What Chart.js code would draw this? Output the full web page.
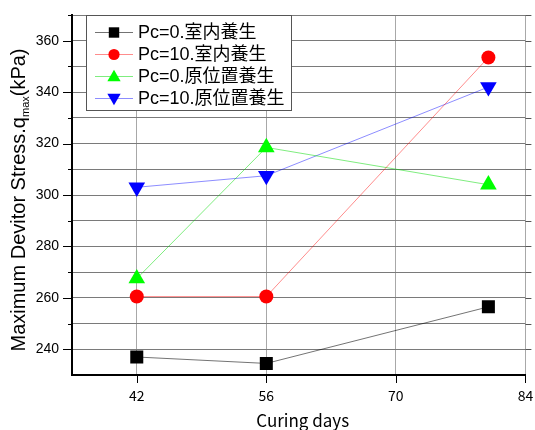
<!DOCTYPE html>
<html>
<head>
<meta charset="utf-8">
<script src="https://cdn.jsdelivr.net/npm/chart.js@4.4.1/dist/chart.umd.min.js"></script>
<style>
  html, body { margin: 0; padding: 0; background: #ffffff; }
  #wrap { width: 535px; height: 430px; }
</style>
</head>
<body>
<div id="wrap"><canvas id="c" width="535" height="430"></canvas></div>
<script>
// Curing time (days) and the tick marks on the x axis
const curingDays = [42, 56, 80];
const xTickValues = [42, 56, 70, 84];

// Maximum deviator stress q_max (kPa) for each curing condition
const seriesNames = ['Pc=0.室内養生', 'Pc=10.室内養生', 'Pc=0.原位置養生', 'Pc=10.原位置養生'];
const pc0Indoor = [237, 234.5, 256.5];
const pc10Indoor = [260.5, 260.5, 353.5];
const pc0Field = [267.5, 318.5, 304];
const pc10Field = [303, 307.5, 342];

// y axis range and labelled ticks
const yMin = 230, yMax = 370, yStep = 10;
const yTickLabels = [240, 260, 280, 300, 320, 340, 360];

const LATIN = '"Liberation Sans", Arial, sans-serif';
const GOTHIC = '"Noto Sans CJK JP", "Liberation Sans", sans-serif';
const MIXED = '"Liberation Sans", "Noto Sans CJK JP", sans-serif';

const styles = [
  { line: 'rgba(0,0,0,0.55)',   fill: '#000000', shape: 'rect',     radius: 9.2, rot: 0 },
  { line: 'rgba(255,0,0,0.45)', fill: '#ff0000', shape: 'circle',   radius: 7,   rot: 0 },
  { line: 'rgba(0,220,0,0.5)',  fill: '#00ff00', shape: 'triangle', radius: 9.6, rot: 0 },
  { line: 'rgba(0,0,255,0.45)', fill: '#0000ff', shape: 'triangle', radius: 9.6, rot: 180 }
];

const seriesValues = [pc0Indoor, pc10Indoor, pc0Field, pc10Field];

const datasets = seriesValues.map((vals, i) => ({
  label: seriesNames[i],
  data: curingDays.map((d, k) => ({ x: d, y: vals[k] })),
  borderColor: styles[i].line,
  borderWidth: 1,
  backgroundColor: styles[i].fill,
  pointStyle: styles[i].shape,
  pointRadius: styles[i].radius,
  pointRotation: styles[i].rot,
  pointBackgroundColor: styles[i].fill,
  pointBorderColor: styles[i].fill,
  pointBorderWidth: 0,
  pointHoverRadius: styles[i].radius,
  tension: 0
}));

// Tick marks, framed legend and axis titles drawn on top of the chart
const decorations = {
  id: 'decorations',
  afterDraw(chart) {
    const ctx = chart.ctx;
    const area = chart.chartArea;
    const xs = chart.scales.x, ys = chart.scales.y;
    ctx.save();

    // y tick marks: long at labelled values, short in between; mirrored on the right
    ctx.lineWidth = 1;
    ys.ticks.forEach(t => {
      if (t.value === yMin) return;
      const py = Math.round(ys.getPixelForValue(t.value)) + 0.5;
      const major = yTickLabels.includes(t.value);
      const len = major ? 9 : 4;
      ctx.strokeStyle = '#000';
      ctx.beginPath();
      ctx.moveTo(area.left - len, py);
      ctx.lineTo(area.left, py);
      ctx.stroke();
      ctx.strokeStyle = '#555';
      ctx.beginPath();
      ctx.moveTo(area.right, py);
      ctx.lineTo(area.right + 6, py);
      ctx.stroke();
    });
    // x tick marks
    ctx.strokeStyle = '#000';
    xTickValues.forEach(v => {
      const px = Math.round(xs.getPixelForValue(v)) + 0.5;
      ctx.beginPath();
      ctx.moveTo(px, area.bottom);
      ctx.lineTo(px, area.bottom + 8);
      ctx.stroke();
    });

    // x axis title
    ctx.fillStyle = '#000';
    ctx.font = '17px ' + GOTHIC;
    ctx.textAlign = 'center';
    ctx.textBaseline = 'middle';
    ctx.fillText('Curing days', (area.left + area.right) / 2 + 4, 421);

    // y axis title with subscript
    ctx.save();
    ctx.translate(18, 200);
    ctx.rotate(-Math.PI / 2);
    const mainFont = '20px ' + LATIN, subFont = '11px ' + LATIN;
    const p1 = 'Maximum Devitor Stress.q', p2 = 'max', p3 = '(kPa)';
    ctx.font = mainFont; const w1 = ctx.measureText(p1).width; const w3 = ctx.measureText(p3).width;
    ctx.font = subFont; const w2 = ctx.measureText(p2).width;
    let sx = -(w1 + w2 + w3) / 2;
    ctx.textAlign = 'left';
    ctx.textBaseline = 'alphabetic';
    ctx.font = mainFont; ctx.fillText(p1, sx, 7); sx += w1;
    ctx.font = subFont; ctx.fillText(p2, sx, 11); sx += w2;
    ctx.font = mainFont; ctx.fillText(p3, sx, 7);
    ctx.restore();

    // legend box
    const bx = 86.5, by = 15.5, bw = 205, bh = 95;
    ctx.fillStyle = '#fff';
    ctx.fillRect(bx, by, bw, bh);
    ctx.strokeStyle = '#555';
    ctx.lineWidth = 1;
    ctx.strokeRect(bx, by, bw, bh);
    chart.data.datasets.forEach((ds, i) => {
      const ly = 32.5 + i * 22;
      ctx.strokeStyle = ds.borderColor;
      ctx.lineWidth = 1;
      ctx.beginPath();
      ctx.moveTo(95, ly);
      ctx.lineTo(133, ly);
      ctx.stroke();
      ctx.fillStyle = ds.pointBackgroundColor;
      const dy = ds.pointStyle === 'triangle' ? (ds.pointRotation ? -1 : 1) : 0;
      Chart.helpers.drawPoint(ctx, {
        pointStyle: ds.pointStyle,
        rotation: ds.pointRotation,
        radius: ds.pointRadius * 0.8,
        borderWidth: 0
      }, 114, ly + dy);
      ctx.fillStyle = '#000';
      ctx.font = '18px ' + MIXED;
      ctx.textAlign = 'left';
      ctx.textBaseline = 'middle';
      ctx.fillText(ds.label, 138, ly + 1);
    });

    ctx.restore();
  }
};

new Chart(document.getElementById('c'), {
  type: 'line',
  data: { datasets },
  plugins: [decorations],
  options: {
    responsive: false,
    animation: false,
    devicePixelRatio: 1,
    layout: { padding: { top: 15, right: 8, left: 0, bottom: 0 } },
    plugins: { legend: { display: false }, tooltip: { enabled: false } },
    scales: {
      x: {
        type: 'linear',
        min: 35,
        max: 84,
        afterBuildTicks: s => { s.ticks = xTickValues.map(v => ({ value: v })); },
        afterFit: s => { s.height = 55; s.paddingRight = 0; s.paddingLeft = 0; },
        ticks: {
          font: { family: GOTHIC, size: 14 },
          color: '#000',
          padding: 12,
          maxRotation: 0,
          callback: v => String(v)
        },
        grid: { color: '#a8a8a8', lineWidth: 1, drawTicks: false },
        border: { display: true, color: '#000', width: 2 }
      },
      y: {
        type: 'linear',
        min: yMin,
        max: yMax,
        afterFit: s => { s.width = 72; s.paddingTop = 0; s.paddingBottom = 0; },
        ticks: {
          stepSize: yStep,
          font: { family: LATIN, size: 14 },
          color: '#000',
          padding: 13,
          autoSkip: false,
          callback: v => (yTickLabels.includes(v) ? String(v) : '')
        },
        grid: { color: '#7a7a7a', lineWidth: 1, drawTicks: false },
        border: { display: true, color: '#000', width: 2 }
      }
    }
  }
});
</script>
</body>
</html>
